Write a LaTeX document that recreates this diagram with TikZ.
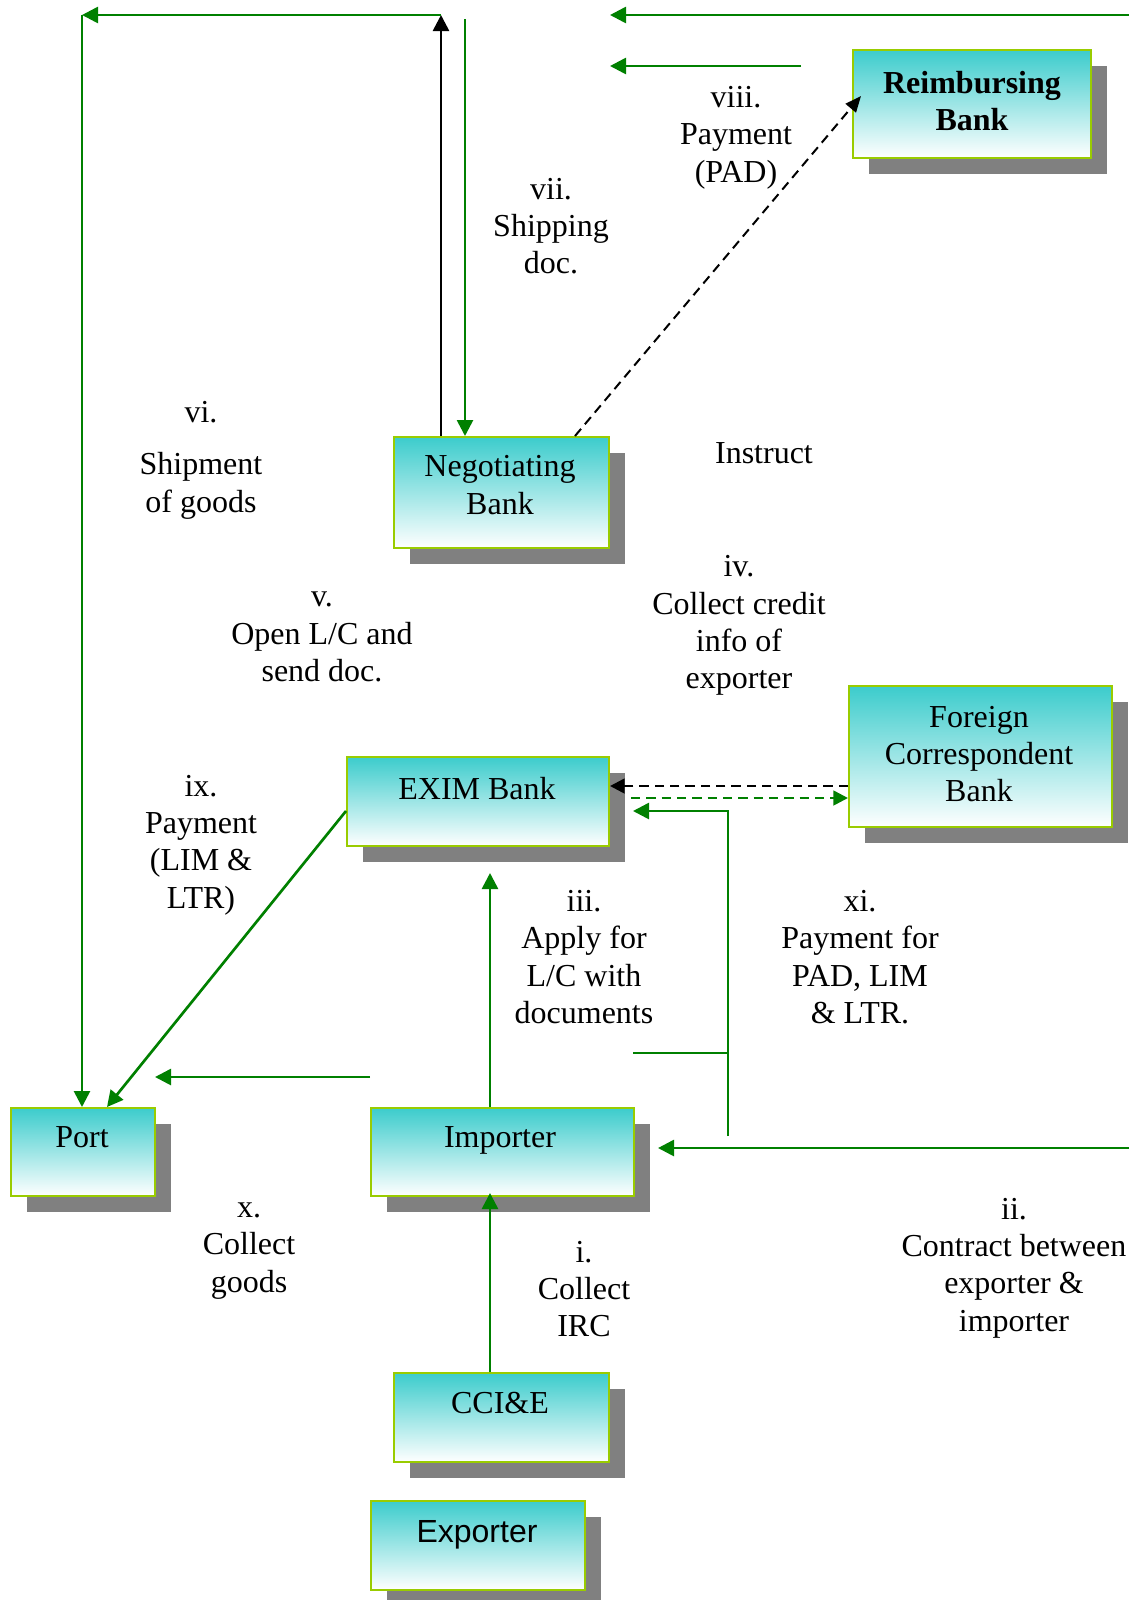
\documentclass[tikz,border=0pt]{standalone}
\usepackage{fontspec}
\setmainfont{Liberation Serif}
\newfontfamily\expfont{Liberation Sans}
\usetikzlibrary{arrows.meta,shadows}
\definecolor{boxteal}{HTML}{3CCCCC}
\definecolor{boxline}{HTML}{99CC00}
\definecolor{flowgreen}{HTML}{008000}
\definecolor{shadowgray}{HTML}{808080}
\begin{document}
\begin{tikzpicture}[x=0.75pt,y=-0.75pt,
  box/.style={draw=boxline, line width=1.5pt, top color=boxteal, bottom color=white,
    anchor=north west, inner sep=0pt,
    drop shadow={shadow xshift=12pt, shadow yshift=-12pt, fill=shadowgray, opacity=1}},
  txt/.style={align=center, font=\fontsize{24}{28}\selectfont, inner sep=0pt},
  gl/.style={draw=flowgreen, line width=2pt},
  bl/.style={draw=black, line width=2pt},
  tipg/.style={-{Triangle[length=12pt,width=12pt]}},
  dsh/.style={dash pattern=on 7pt off 4.5pt}
]
\useasboundingbox (0,0) rectangle (1129,1600);
\fill[white] (0,0) rectangle (1129,1600);

% boxes
\node[box, minimum width=178.5pt, minimum height=81pt] (reim) at (852,49) {};
\node[box, minimum width=161.25pt, minimum height=83.25pt] (neg) at (393,436) {};
\node[box, minimum width=197.25pt, minimum height=105.75pt] (forn) at (848,685) {};
\node[box, minimum width=196.5pt, minimum height=66.75pt] (exim) at (346,756) {};
\node[box, minimum width=108pt, minimum height=66pt] (port) at (10,1107) {};
\node[box, minimum width=197.25pt, minimum height=66pt] (imp) at (370,1107) {};
\node[box, minimum width=161.25pt, minimum height=66.75pt] (cci) at (393,1372) {};
\node[box, minimum width=160.5pt, minimum height=66.75pt] (exp) at (370,1500) {};

% box texts
\node[txt, font=\fontsize{24}{28}\selectfont\bfseries] (reimT) at (972,101) {Reimbursing\\Bank};
\node[txt] (negT) at (500,485) {Negotiating\\Bank};
\node[txt] (fornT) at (979,754) {Foreign\\Correspondent\\Bank};
\node[txt] (eximT) at (477,789) {EXIM Bank};
\node[txt] (portT) at (82,1137) {Port};
\node[txt] (impT) at (500,1140) {Importer};
\node[txt] (cciT) at (500,1403) {CCI\&E};
\node[txt, font=\fontsize{24}{28}\expfont] (expT) at (477,1535) {Exporter};

% labels
\node[txt] (l8) at (736,137.5) {viii.\\Payment\\(PAD)};
\node[txt] (l7) at (551,226) {vii.\\Shipping\\doc.};
\node[txt] (l6a) at (201,412) {vi.};
\node[txt] (l6b) at (201,486) {Shipment\\of goods};
\node[txt] (lins) at (764,453) {Instruct};
\node[txt] (l4) at (739,625.5) {iv.\\Collect credit\\info of\\exporter};
\node[txt] (l5) at (322,637) {v.\\Open L/C and\\send doc.};
\node[txt] (l9) at (201,845) {ix.\\Payment\\(LIM \&\\LTR)};
\node[txt] (l3) at (584,957) {iii.\\Apply for\\L/C with\\documents};
\node[txt] (l11) at (860,957) {xi.\\Payment for\\PAD, LIM\\\& LTR.};
\node[txt] (l10) at (249,1251) {x.\\Collect\\goods};
\node[txt] (l1) at (584,1289) {i.\\Collect\\IRC};
\node[txt] (l2) at (1014,1268) {ii.\\Contract between\\exporter \&\\importer};

% coordinates
\coordinate (t1s) at (1129,15);
\coordinate (t1e) at (610,15);
\coordinate (t2s) at (801,66);
\coordinate (t2e) at (610,66);
\coordinate (topA) at (441,15);
\coordinate (topL) at (82,15);
\coordinate (topG) at (465,19);
\coordinate (xs) at (575,0);
\coordinate (reimIn) at (861,96);
\coordinate (yb) at (0,786);
\coordinate (ygd) at (0,798);
\coordinate (gds) at (631,798);
\coordinate (ve) at (728,1136);
\coordinate (vc) at (728,811);
\coordinate (vt) at (633,811);
\coordinate (hs) at (633,1053);
\coordinate (he) at (728,1053);
\coordinate (rs) at (1129,1148);
\coordinate (re) at (658,1148);
\coordinate (xm) at (490,0);
\coordinate (eximIn) at (490,873);
\coordinate (ps) at (370,1077);
\coordinate (pe) at (155,1077);
\coordinate (yp) at (0,811);
\coordinate (xp) at (107,0);

% connectors
\draw[gl,tipg] (t1s) -- (t1e);
\draw[gl,tipg] (t2s) -- (t2e);
\draw[bl,tipg] (neg.north -| topA) -- (topA);
\draw[gl,tipg] (topA) -- (topL);
\draw[gl,tipg] (topL) -- (port.north -| topL);
\draw[gl,tipg] (topG) -- (neg.north -| topG);
\draw[black,line width=1.5pt,dsh,-{Triangle[length=12pt,width=10pt]}] (neg.north -| xs) -- (reimIn);
\draw[black,line width=2pt,dsh,-{Triangle[length=11pt,width=11pt]}] (forn.west |- yb) -- (exim.east |- yb);
\draw[flowgreen,line width=2pt,dsh,-{Triangle[length=11pt,width=11pt]}] (gds) -- (forn.west |- ygd);
\draw[gl,tipg] (ve) -- (vc) -- (vt);
\draw[gl] (hs) -- (he);
\draw[gl,tipg] (rs) -- (re);
\draw[gl,tipg] (imp.north -| xm) -- (eximIn);
\draw[gl,tipg] (cci.north -| xm) -- ([yshift=3pt]imp.south -| xm);
\draw[gl,tipg] (ps) -- (pe);
\draw[gl,tipg] (exim.west |- yp) -- (port.north -| xp);
\end{tikzpicture}
\end{document}
